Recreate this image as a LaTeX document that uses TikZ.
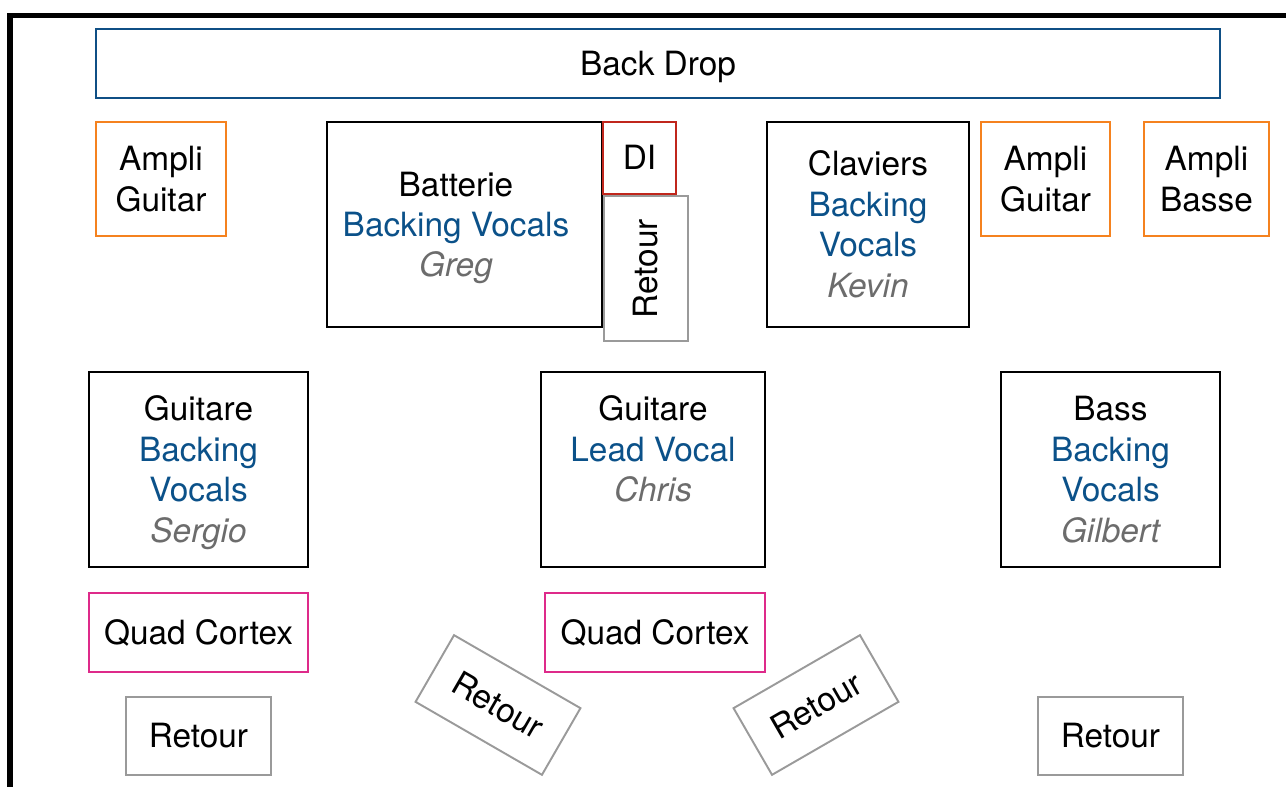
\documentclass[tikz,border=0pt]{standalone}
\usepackage{fontspec}
\setmainfont{TeX Gyre Heros}
\usepackage{tikz}

\definecolor{dropblue}{HTML}{0F4F85}
\definecolor{vocblue}{HTML}{0B5189}
\definecolor{amporange}{HTML}{F5821F}
\definecolor{direde}{HTML}{C0261C}
\definecolor{qcpink}{HTML}{DE2A8A}
\definecolor{retgray}{HTML}{9A9A9A}
\definecolor{namegray}{HTML}{6C6C6C}

\newcommand{\voc}[1]{\textcolor{vocblue}{#1}}
\newcommand{\who}[1]{\textcolor{namegray}{\itshape #1}}
% struts: top of first line, bottom of last line
\newcommand{\hstrut}{\rule{0pt}{18.1pt}}
\newcommand{\dstrut}{\rule[-4.5pt]{0pt}{4.5pt}}

\begin{document}
\begin{tikzpicture}[x=0.02cm, y=-0.02cm,
			every node/.style={draw, rectangle, line width=1.1pt, align=center, inner sep=0pt,
				font=\fontsize{19}{23}\selectfont,
				execute at begin node=\hstrut\dstrut},
			ampli/.style={draw=amporange, minimum height=2.28cm},
			monitor/.style={draw=retgray, minimum width=2.9cm, minimum height=1.56cm},
			quad/.style={draw=qcpink, minimum height=1.58cm},
			player/.style={draw=black, minimum height=3.9cm}]
			
			\useasboundingbox (0,0) rectangle (1286,787);
			
			% Stage edge
			\draw[line width=0.11cm] (10,800) -- (10,15.5) -- (1300,15.5);
			
			% Define the nodes for the back line
			\node[draw=dropblue, minimum width=22.48cm, minimum height=1.38cm] (BD) at (658,63.5) {Back Drop};
			\node[ampli, minimum width=2.6cm] (AG1) at (161,179) {\hstrut Ampli\\Guitar\dstrut};
			\node[draw=black, minimum width=5.5cm, minimum height=4.1cm] (BAT) at (464.5,224.5) {};
			\node[draw=none] (BATt) at (456,224.5)
				{\hstrut Batterie\\\voc{Backing Vocals}\\\who{Greg}\dstrut};
			\node[draw=direde, minimum width=1.46cm, minimum height=1.44cm] (DI) at (639.5,158) {DI};
			\node[draw=retgray, rotate=90, minimum width=2.9cm, minimum height=1.68cm] (RV) at (646,268.5) {Retour};
			\node[draw=black, minimum width=4.04cm, minimum height=4.1cm] (CL) at (868,224.5)
				{\hstrut Claviers\\\voc{Backing}\\\voc{Vocals}\\\who{Kevin}\dstrut};
			\node[ampli, minimum width=2.58cm] (AG2) at (1045.5,179) {\hstrut Ampli\\Guitar\dstrut};
			\node[ampli, minimum width=2.5cm] (AB) at (1206.5,179) {\hstrut Ampli\\Basse\dstrut};
			
			% Define the nodes for the front line
			\node[player, minimum width=4.38cm] (GS) at (198.5,469.5)
				{\hstrut Guitare\\\voc{Backing}\\\voc{Vocals}\\\who{Sergio}\dstrut};
			\node[player, minimum width=4.48cm] (GC) at (653,469.5)
				{\hstrut Guitare\\\voc{Lead Vocal}\\\who{Chris}\\\dstrut};
			\node[player, minimum width=4.38cm] (BG) at (1110.5,469.5)
				{\hstrut Bass\\\voc{Backing}\\\voc{Vocals}\\\who{Gilbert}\dstrut};
			
			% Define the pedals and the monitors
			\node[quad, minimum width=4.38cm] (QC1) at (198.5,632.5) {Quad Cortex};
			\node[quad, minimum width=4.4cm] (QC2) at (655,632.5) {Quad Cortex};
			\node[monitor] (R1) at (198.5,736) {Retour};
			\node[monitor, minimum width=2.92cm, minimum height=1.54cm, rotate=-30] (R2) at (498,705) {Retour};
			\node[monitor, minimum width=2.92cm, minimum height=1.54cm, rotate=30] (R3) at (816,705) {Retour};
			\node[monitor] (R4) at (1110.5,736) {Retour};
		\end{tikzpicture}
\end{document}
